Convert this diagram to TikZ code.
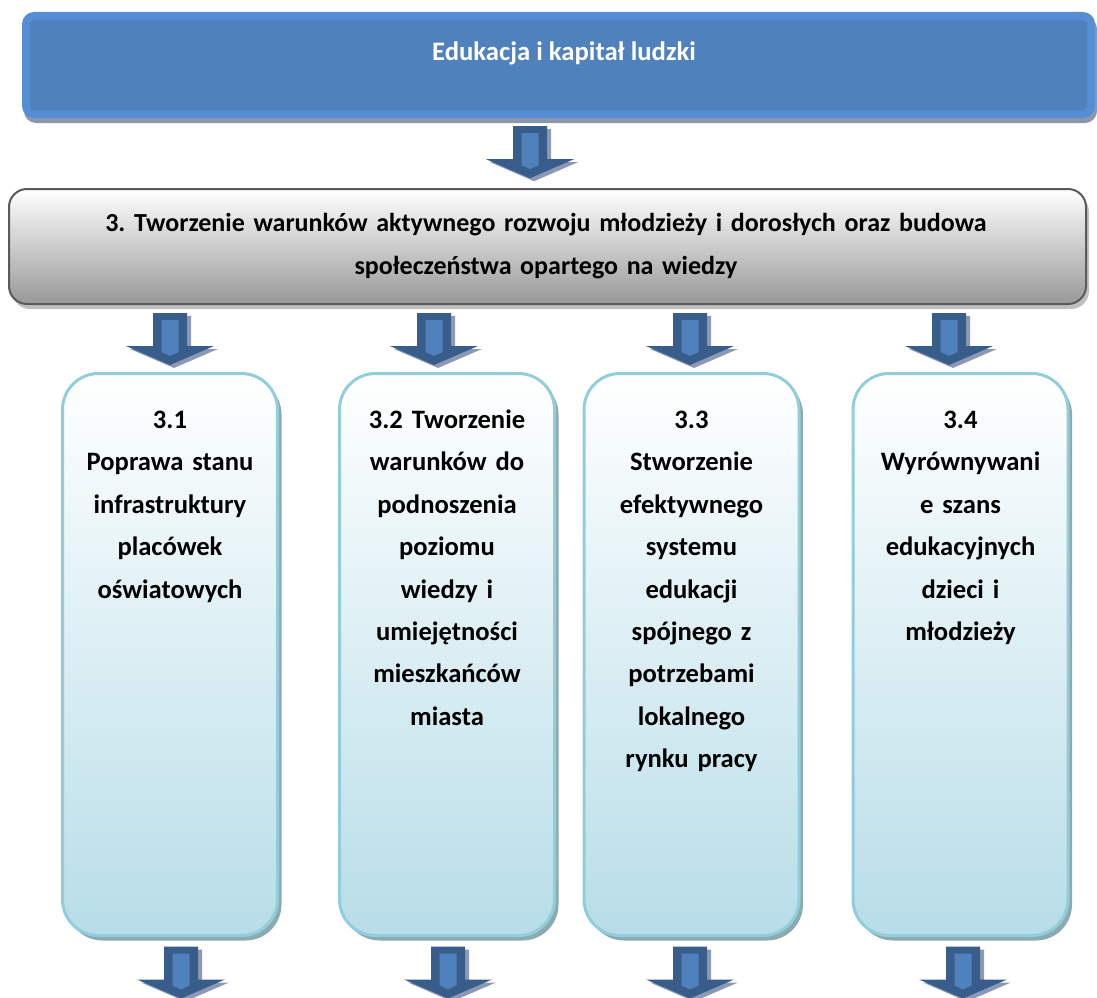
\documentclass[tikz,border=0pt]{standalone}
\usepackage{fontspec}
\setmainfont{Carlito}
\usetikzlibrary{shadows,calc}
\frenchspacing
\definecolor{ringblue}{RGB}{85,142,213}
\definecolor{fillblue}{RGB}{79,129,189}
\definecolor{topshadow}{RGB}{140,152,170}
\definecolor{darkarrow}{RGB}{56,93,138}
\definecolor{arrowshadow}{RGB}{140,153,180}
\definecolor{greyborder}{RGB}{90,90,90}
\definecolor{greymid}{RGB}{215,215,215}
\definecolor{greybottom}{RGB}{152,152,152}
\definecolor{greyshadow}{RGB}{192,192,192}
\definecolor{lbborder}{RGB}{146,205,220}
\definecolor{lbbottom}{RGB}{183,221,232}
\definecolor{lbshadow}{RGB}{140,170,176}
\begin{document}
\begin{tikzpicture}[x=1pt,y=-1pt,
  topbox/.style={fill=ringblue, rounded corners=12pt, inner sep=0pt,
    minimum width=1073pt, minimum height=106pt,
    drop shadow={shadow xshift=2pt, shadow yshift=-5pt, fill=topshadow, opacity=1}},
  toptext/.style={anchor=base, inner sep=0pt, text=white,
    font=\fontsize{26.7}{30}\selectfont\bfseries},
  subbox/.style={draw=greyborder, line width=2pt, rounded corners=18pt, inner sep=0pt,
    minimum width=1077pt, minimum height=115pt,
    top color=white, middle color=greymid, bottom color=greybottom,
    drop shadow={shadow xshift=3pt, shadow yshift=-5pt, fill=greyshadow, opacity=1}},
  subtext/.style={anchor=base, inner sep=0pt, text width=1000pt, align=center,
    font=\fontsize{26}{43}\selectfont\bfseries},
  lbox/.style={draw=lbborder, line width=3pt, rounded corners=36pt, inner sep=0pt,
    minimum width=215pt, minimum height=562pt,
    top color=white, bottom color=lbbottom,
    drop shadow={shadow xshift=4pt, shadow yshift=-5pt, fill=lbshadow, opacity=1}},
  boxtext/.style={anchor=base, inner sep=0pt, text width=210pt, align=center,
    font=\fontsize{26.6}{42.4}\selectfont\bfseries},
  blockarrow/.pic={
    \fill[arrowshadow] (-13,3) -- (21,3) -- (21,36) -- (48,36) -- (4,55) -- (-40,36) -- (-13,36) -- cycle;
    \fill[darkarrow] (-17,0) -- (17,0) -- (17,33) -- (44,33) -- (0,52) -- (-44,33) -- (-17,33) -- cycle;
    \fill[fillblue] (-8.5,7) -- (8.5,7) -- (8.5,39) -- (0,43) -- (-8.5,39) -- cycle;
  }
]
\useasboundingbox (0,0) rectangle (1097,998);

% top box
\node[topbox] (top) at (558.5,65) {};
\fill[fillblue, rounded corners=6pt] ([shift={(8,8)}]top.north west) rectangle ([shift={(-8,-8)}]top.south east);
\node[toptext] (toptxt) at ($(top.center)+(5.5,-5)$) {Edukacja i kapitał ludzki};

% second box
\node[subbox] (sub) at (547.5,246.5) {};
\node[subtext] (subtxt) at ($(sub.center)+(-1.5,-15)$) {3. Tworzenie warunków aktywnego rozwoju młodzieży i dorosłych oraz budowa\\społeczeństwa opartego na wiedzy};

% four boxes
\node[lbox] (b1) at (170,654.5) {};
\node[lbox] (b2) at (447,654.5) {};
\node[lbox] (b3) at (691.5,654.5) {};
\node[lbox] (b4) at (960.5,654.5) {};

\node[boxtext] (t1) at ($(b1.north)+(0,56.5)$) {3.1\\Poprawa stanu\\infrastruktury\\placówek\\oświatowych};
\node[boxtext] (t2) at ($(b2.north)+(0,56.5)$) {3.2 Tworzenie\\warunków do\\podnoszenia\\poziomu\\wiedzy i\\umiejętności\\mieszkańców\\miasta};
\node[boxtext] (t3) at ($(b3.north)+(0,56.5)$) {3.3\\Stworzenie\\efektywnego\\systemu\\edukacji\\spójnego z\\potrzebami\\lokalnego\\rynku pracy};
\node[boxtext] (t4) at ($(b4.north)+(0,56.5)$) {3.4\\Wyrównywani\\e szans\\edukacyjnych\\dzieci i\\młodzieży};

% arrows
\pic (a0) at ($(top.south)+(-28.5,8)$) {blockarrow};
\pic (a1) at ($(b1.north |- sub.south)+(0,8)$) {blockarrow};
\pic (a2) at ($(b2.north |- sub.south)+(-13,8)$) {blockarrow};
\pic (a3) at ($(b3.north |- sub.south)+(-1.5,8)$) {blockarrow};
\pic (a4) at ($(b4.north |- sub.south)+(-11.5,8)$) {blockarrow};
\pic (c1) at ($(b1.south)+(11,9.5)$) {blockarrow};
\pic (c2) at ($(b2.south)+(1,9.5)$) {blockarrow};
\pic (c3) at ($(b3.south)+(-1.5,9.5)$) {blockarrow};
\pic (c4) at ($(b4.south)+(2.5,9.5)$) {blockarrow};
\end{tikzpicture}
\end{document}
